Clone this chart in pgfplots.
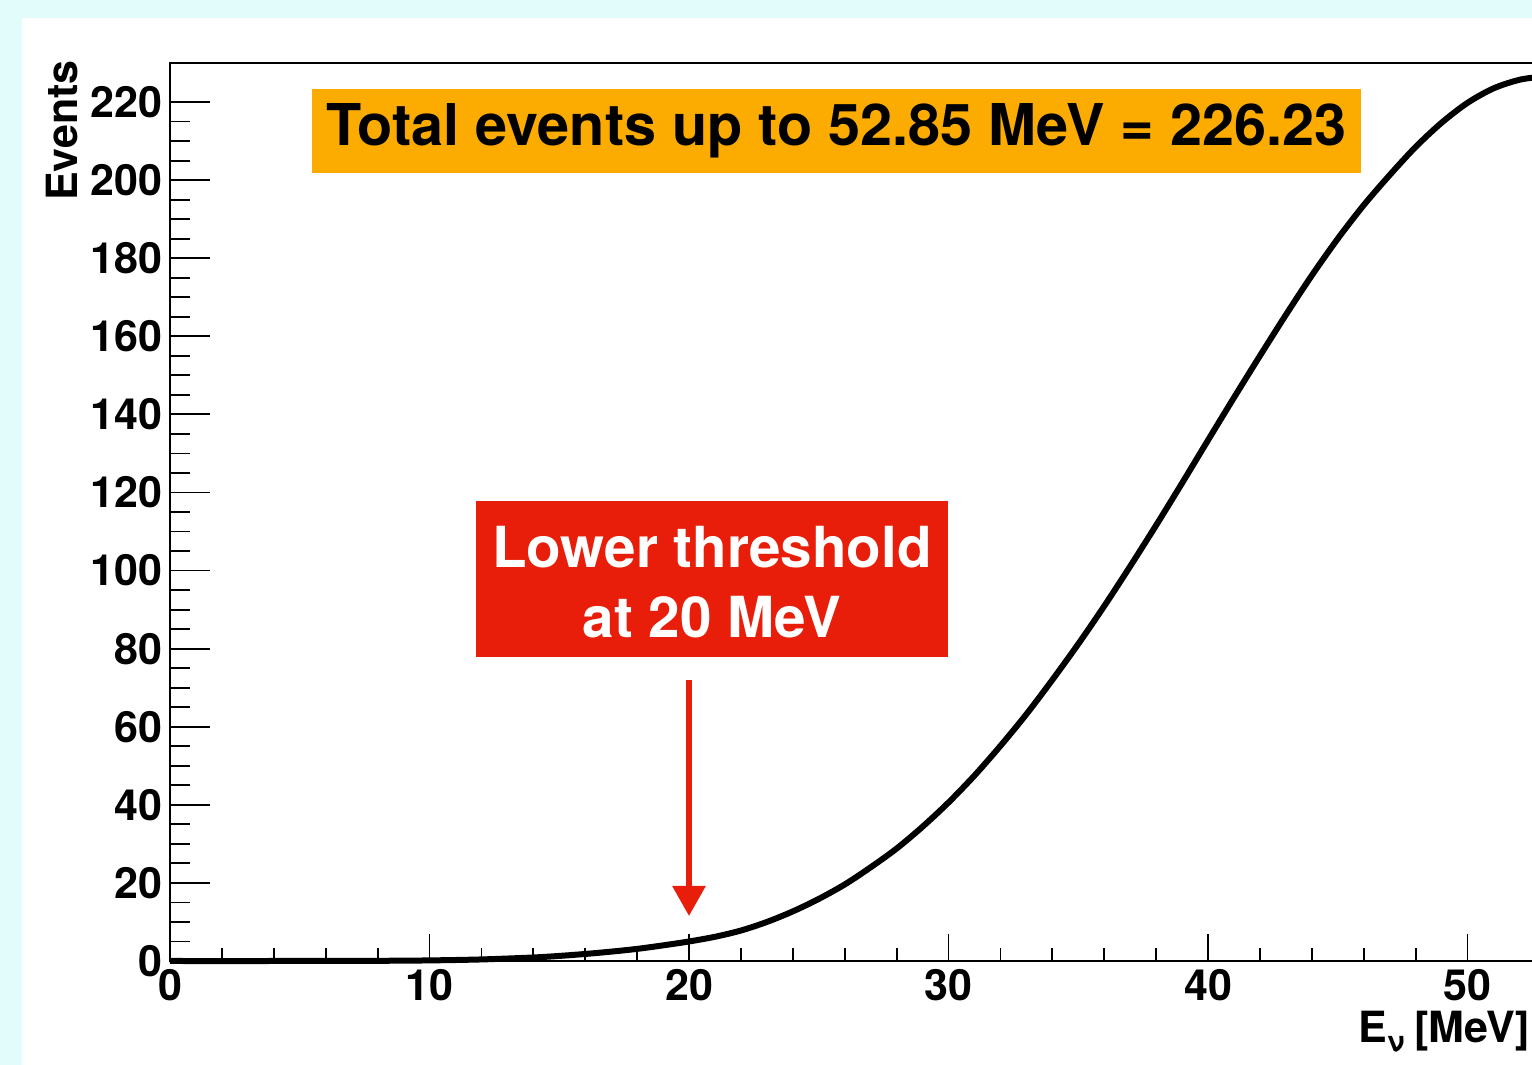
\documentclass[border=0pt]{standalone}
\usepackage{fontspec}
\setmainfont{TeX Gyre Heros}
\usepackage{pgfplots}
\pgfplotsset{compat=1.18}
\usetikzlibrary{arrows.meta}
\definecolor{bgcyan}{RGB}{226,252,252}
\definecolor{boxorange}{RGB}{252,172,0}
\definecolor{boxred}{RGB}{232,30,10}
\pgfplotsset{
  common/.style={
    at={(0pt,0pt)}, anchor=south west,
    scale only axis,
    width=685.75pt, height=449pt,
    xmin=0, xmax=52.85, ymin=0, ymax=230,
    axis line style={line width=1pt, black},
    tick pos=left,
    tick align=inside,
    tick style={line width=0.9pt, black},
    /pgf/number format/assume math mode=true,
    ticklabel style={font=\fontsize{21.5}{23}\selectfont\bfseries},
    clip=false,
  }
}
\begin{document}
\begin{tikzpicture}
\useasboundingbox (-85pt,-52pt) rectangle (681pt,480.5pt);
\clip (-85pt,-52pt) rectangle (681pt,480.5pt);
\fill[bgcyan] (-85pt,-52pt) rectangle (681pt,480.5pt);
\fill[white] (-74pt,-52pt) rectangle (690pt,471.5pt);
% x ticks
\begin{axis}[common,
  xtick={0,10,20,30,40,50},
  ytick=\empty, minor y tick num=0,
  minor x tick num=4,
  major tick length=13.5pt,
  minor tick length=6.5pt,
  xticklabel style={yshift=-0.5pt},
]
\end{axis}
% y ticks and curve
\begin{axis}[common,
  xtick=\empty, minor x tick num=0,
  ytick={0,20,40,60,80,100,120,140,160,180,200,220},
  minor y tick num=3,
  major tick length=20pt,
  minor tick length=10pt,
  yticklabel style={xshift=-0.5pt},
]
\addplot[black, line width=3pt, smooth] coordinates {
(0,0) (4,0) (8,0.05) (10,0.15) (12,0.4) (14,0.9) (15,1.3) (16,1.8) (17,2.4)
(18,3.1) (19,4.0) (20,5.0) (21,6.2) (22,7.8) (23,10.0) (24,12.7) (25,15.9)
(26,19.6) (27,24.0) (28,28.8) (29,34.4) (30,40.6) (31,47.5) (32,55.1)
(33,63.2) (34,72.0) (35,81.2) (36,90.9) (37,101.1) (38,111.6) (39,122.4)
(40,133.4) (41,144.3) (42,155.0) (43,165.5) (44,175.6) (45,185.0)
(46,193.6) (47,201.3) (48,208.5) (49,214.7) (50,219.8) (51,223.5)
(52,225.7) (52.85,226.5)
};
\end{axis}
\node[rotate=90, anchor=base east, inner sep=0pt, font=\fontsize{21.5}{23}\selectfont\bfseries] at (-46pt,450.5pt) {Events};
\node[anchor=north east, inner sep=0pt, font=\fontsize{21.5}{23}\selectfont\bfseries] at (680pt,-25pt) {E\raisebox{-4.5pt}{\fontsize{14}{14}\selectfont\bfseries ν}\hspace{5pt}[MeV]};
\fill[boxorange] (71pt,394pt) rectangle (595.5pt,436pt);
\node[anchor=center, inner sep=0pt, font=\fontsize{28.8}{31}\selectfont\bfseries] at (333.25pt,415pt) {Total events up to 52.85 MeV = 226.23};
\fill[boxred] (153pt,152pt) rectangle (389pt,230pt);
\node[anchor=base, inner sep=0pt, text=white, font=\fontsize{28.3}{31}\selectfont\bfseries] at (271pt,196.5pt) {Lower threshold};
\node[anchor=base, inner sep=0pt, text=white, font=\fontsize{28.3}{31}\selectfont\bfseries] at (271pt,161.5pt) {at 20 MeV};
\draw[boxred, line width=3pt, -{Triangle[width=16pt,length=15pt]}] (259.5pt,140.5pt) -- (259.5pt,22.5pt);
\end{tikzpicture}
\end{document}
